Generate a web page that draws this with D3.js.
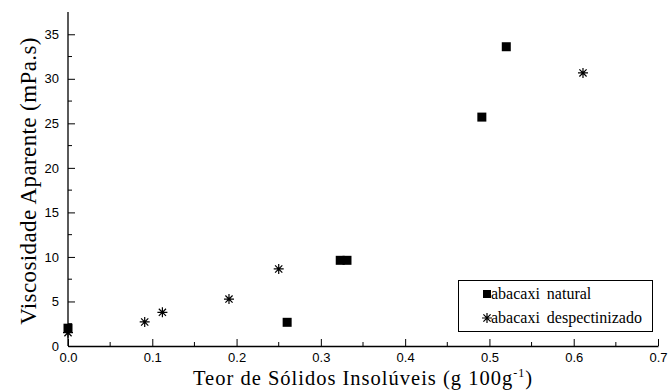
<!DOCTYPE html>
<html>
<head>
<meta charset="utf-8">
<script src="https://cdn.jsdelivr.net/npm/d3@7"></script>
<style>
  body { margin: 0; background: #fff; }
  svg { display: block; }
</style>
</head>
<body>
<svg id="chart" width="671" height="390"></svg>
<script>
// data
const naturalX = [0, 0.26, 0.323, 0.331, 0.491, 0.52];
const naturalY = [2.0, 2.66, 9.62, 9.62, 25.7, 33.6];
const despecX = [0, 0.091, 0.112, 0.191, 0.25, 0.611];
const despecY = [1.5, 2.7, 3.78, 5.27, 8.65, 30.66];
const xTicks = [0, 0.1, 0.2, 0.3, 0.4, 0.5, 0.6, 0.7];
const yTicks = [0, 5, 10, 15, 20, 25, 30, 35];
const legendLabels = ["abacaxi natural", "abacaxi despectinizado"];

const svg = d3.select("#chart");
const x = d3.scaleLinear().domain([0, 0.7]).range([68, 658]);
const y = d3.scaleLinear().domain([0, 37.5]).range([346, 12]);

const sans = "'Liberation Sans', Arial, sans-serif";
const serif = "'Liberation Serif', 'Times New Roman', serif";

// x axis (ticks inward)
const xAxis = svg.append("g").attr("transform", `translate(0,${y(0)})`)
  .call(d3.axisBottom(x).tickValues(xTicks).tickFormat(d3.format(".1f")).tickSizeInner(-7).tickSizeOuter(0).tickPadding(7));
xAxis.append("g").selectAll("line")
  .data(d3.range(0.05, 0.7, 0.1))
  .join("line")
  .attr("x1", d => x(d)).attr("x2", d => x(d))
  .attr("y1", 0).attr("y2", -4).attr("stroke", "#000");

const yAxis = svg.append("g").attr("transform", `translate(${x(0)},0)`)
  .call(d3.axisLeft(y).tickValues(yTicks).tickSizeInner(-7).tickSizeOuter(0).tickPadding(9));
yAxis.append("g").selectAll("line")
  .data(d3.range(2.5, 37.5, 5))
  .join("line")
  .attr("y1", d => y(d)).attr("y2", d => y(d))
  .attr("x1", 0).attr("x2", 4).attr("stroke", "#000");

[xAxis, yAxis].forEach(a => {
  a.select(".domain").attr("stroke", "#000").attr("stroke-width", 1.3);
  a.selectAll(".tick line").attr("stroke", "#000");
  a.selectAll(".tick text").attr("font-family", sans).attr("font-size", 13).attr("fill", "#000");
});
// y axis line runs to the top
yAxis.select(".domain").attr("d", `M0,${y(0)}V${y(37.5)}`);
xAxis.selectAll(".tick text").attr("dy", "0.71em");

// axis titles
const xt = svg.append("text")
  .attr("x", (x(0) + x(0.7)) / 2).attr("y", 385)
  .attr("text-anchor", "middle").attr("font-family", serif).attr("font-size", 20.5)
  .attr("letter-spacing", 1);
xt.append("tspan").text("Teor de Sólidos Insolúveis (g 100g");
xt.append("tspan").attr("font-size", 12).attr("dy", -8).text("-1");
xt.append("tspan").attr("dy", 8).text(")");

svg.append("text")
  .attr("transform", `translate(36,181) rotate(-90)`)
  .attr("text-anchor", "middle").attr("font-family", serif).attr("font-size", 23)
  .attr("letter-spacing", 0.4)
  .text("Viscosidade Aparente (mPa.s)");

// markers
function square(g, px, py, s) {
  g.append("rect").attr("x", px - s / 2).attr("y", py - s / 2)
    .attr("width", s).attr("height", s).attr("fill", "#000");
}
function asterisk(g, px, py, r) {
  const d = r * 0.72;
  g.append("path")
    .attr("d", `M${px},${py - r}V${py + r}M${px - r},${py}H${px + r}` +
      `M${px - d},${py - d}L${px + d},${py + d}M${px - d},${py + d}L${px + d},${py - d}`)
    .attr("stroke", "#000").attr("stroke-width", 1.2).attr("fill", "none");
}

const pts = svg.append("g");
despecX.forEach((v, i) => asterisk(pts, x(v), y(despecY[i]), 5));
naturalX.forEach((v, i) => square(pts, x(v), y(naturalY[i]), 9));

// legend
const lg = svg.append("g");
lg.append("rect").attr("x", 458.5).attr("y", 280.5).attr("width", 194).attr("height", 51)
  .attr("fill", "#fff").attr("stroke", "#000").attr("stroke-width", 1);
square(lg, 487, 294, 8);
asterisk(lg, 487, 318, 5);
legendLabels.forEach((t, i) => {
  lg.append("text").attr("x", 491).attr("y", 299 + i * 24)
    .attr("font-family", serif).attr("font-size", 16).attr("word-spacing", 3).text(t);
});
</script>
</body>
</html>
